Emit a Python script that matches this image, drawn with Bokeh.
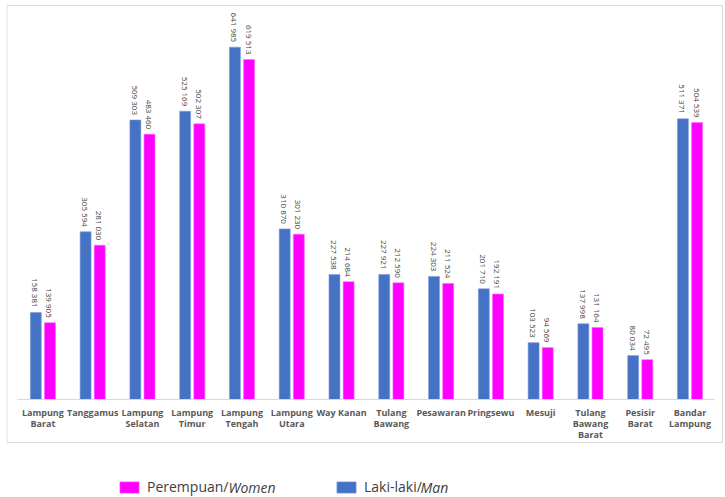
import math
from bokeh.plotting import figure
from bokeh.models import (Range1d, ColumnDataSource, Legend, LegendItem,
                          Label, BoxAnnotation, LinearAxis, FixedTicker)
from bokeh.transform import dodge
from bokeh.core.properties import value
from bokeh.embed import file_html
from bokeh.resources import INLINE

# ---- data ----
categories = ["Lampung Barat", "Tanggamus", "Lampung Selatan", "Lampung Timur",
              "Lampung Tengah", "Lampung Utara", "Way Kanan", "Tulang Bawang",
              "Pesawaran", "Pringsewu", "Mesuji", "Tulang Bawang Barat",
              "Pesisir Barat", "Bandar Lampung"]
tick_labels = ["Lampung\nBarat", "Tanggamus", "Lampung\nSelatan", "Lampung\nTimur",
               "Lampung\nTengah", "Lampung\nUtara", "Way Kanan", "Tulang\nBawang",
               "Pesawaran", "Pringsewu", "Mesuji", "Tulang\nBawang\nBarat",
               "Pesisir\nBarat", "Bandar\nLampung"]
men = [158381, 305594, 509303, 525169, 641985, 310870, 227538, 227921,
       224303, 201710, 103523, 137998, 80034, 511371]
women = [139905, 281030, 483460, 502307, 619513, 301230, 214684, 212590,
         211524, 192191, 94569, 131164, 72495, 504539]

BLUE = "#4472C4"
PINK = "#FF00FF"


def fmt(v):
    return f"{v:,}".replace(",", " ")


# category slots: category i occupies [i, i+1]
xpos = [i + 0.5 for i in range(len(categories))]

src = ColumnDataSource(dict(
    x=xpos,
    cat=categories,
    men=men,
    women=women,
    men_lbl=[fmt(v) for v in men],
    women_lbl=[fmt(v) for v in women],
))

p = figure(width=725, height=497, output_backend="svg", toolbar_location=None,
           x_range=Range1d(-0.231, 14.213),
           y_range=Range1d(-178556, 726978),
           x_axis_location=None, y_axis_location=None,
           min_border_left=6, min_border_right=0, min_border_top=0,
           min_border_bottom=0)
p.outline_line_color = None
p.xgrid.grid_line_color = None
p.ygrid.grid_line_color = None
p.background_fill_color = "white"
p.border_fill_color = "white"

OFF = 0.142
W = 0.22
r_men = p.vbar(x=dodge("x", -OFF), top="men", width=W, source=src,
               fill_color=BLUE, line_color="#7F9BD6", line_width=0.6)
r_women = p.vbar(x=dodge("x", OFF), top="women", width=W, source=src,
                 fill_color=PINK, line_color="#FF66FF", line_width=0.6)

common = dict(angle=-math.pi / 2, text_align="right", text_baseline="middle",
              y_offset=-5, text_font=value("Open Sans"), text_font_size="8px",
              text_color="#404040", source=src)
p.text(x=dodge("x", -OFF), y="men", text="men_lbl", **common)
p.text(x=dodge("x", OFF), y="women", text="women_lbl", **common)

# category axis, one axis per label line, all fixed at y = 0
split = [t.split("\n") for t in tick_labels]
for line in range(3):
    ax = LinearAxis(fixed_location=0, ticker=FixedTicker(ticks=xpos),
                    bounds=(0, len(categories)))
    ax.axis_line_color = "#D9D9D9" if line == 0 else None
    ax.major_tick_line_color = None
    ax.minor_tick_line_color = None
    ax.major_tick_in = 0
    ax.major_tick_out = 0
    ax.major_label_standoff = 6 + 11 * line
    ax.major_label_text_font = "Open Sans"
    ax.major_label_text_font_style = "bold"
    ax.major_label_text_font_size = "9px"
    ax.major_label_text_color = "#595959"
    ax.major_label_overrides = {x: (s[line] if line < len(s) else "")
                                for x, s in zip(xpos, split)}
    p.add_layout(ax, "below")

# chart area border
p.add_layout(BoxAnnotation(left=0.5, right=716, bottom=55, top=492,
                           left_units="screen", right_units="screen",
                           bottom_units="screen", top_units="screen",
                           fill_alpha=0, line_color="#D9D9D9", line_alpha=1,
                           line_width=1))

# legend (two separate legends, with italic English part as labels)
leg_common = dict(orientation="horizontal", padding=0, margin=0, spacing=0,
                  border_line_color=None, background_fill_alpha=0,
                  glyph_width=24, glyph_height=14, label_height=14,
                  label_standoff=6, label_text_font="Open Sans",
                  label_text_font_size="14px", label_text_color="#404040")
leg1 = Legend(items=[LegendItem(label="Perempuan/", renderers=[r_women])],
              location=(111, 1), **leg_common)
leg2 = Legend(items=[LegendItem(label="Laki-laki/", renderers=[r_men])],
              location=(328, 1), **leg_common)
p.add_layout(leg1)
p.add_layout(leg2)

lab_common = dict(x_units="screen", y_units="screen", text_font="Open Sans",
                  text_font_size="14px", text_font_style="italic",
                  text_color="#404040", text_baseline="middle")
p.add_layout(Label(x=222, y=10, text="Women", **lab_common))
p.add_layout(Label(x=414, y=10, text="Man", **lab_common))

open("out.html", "w").write(file_html(p, INLINE))
